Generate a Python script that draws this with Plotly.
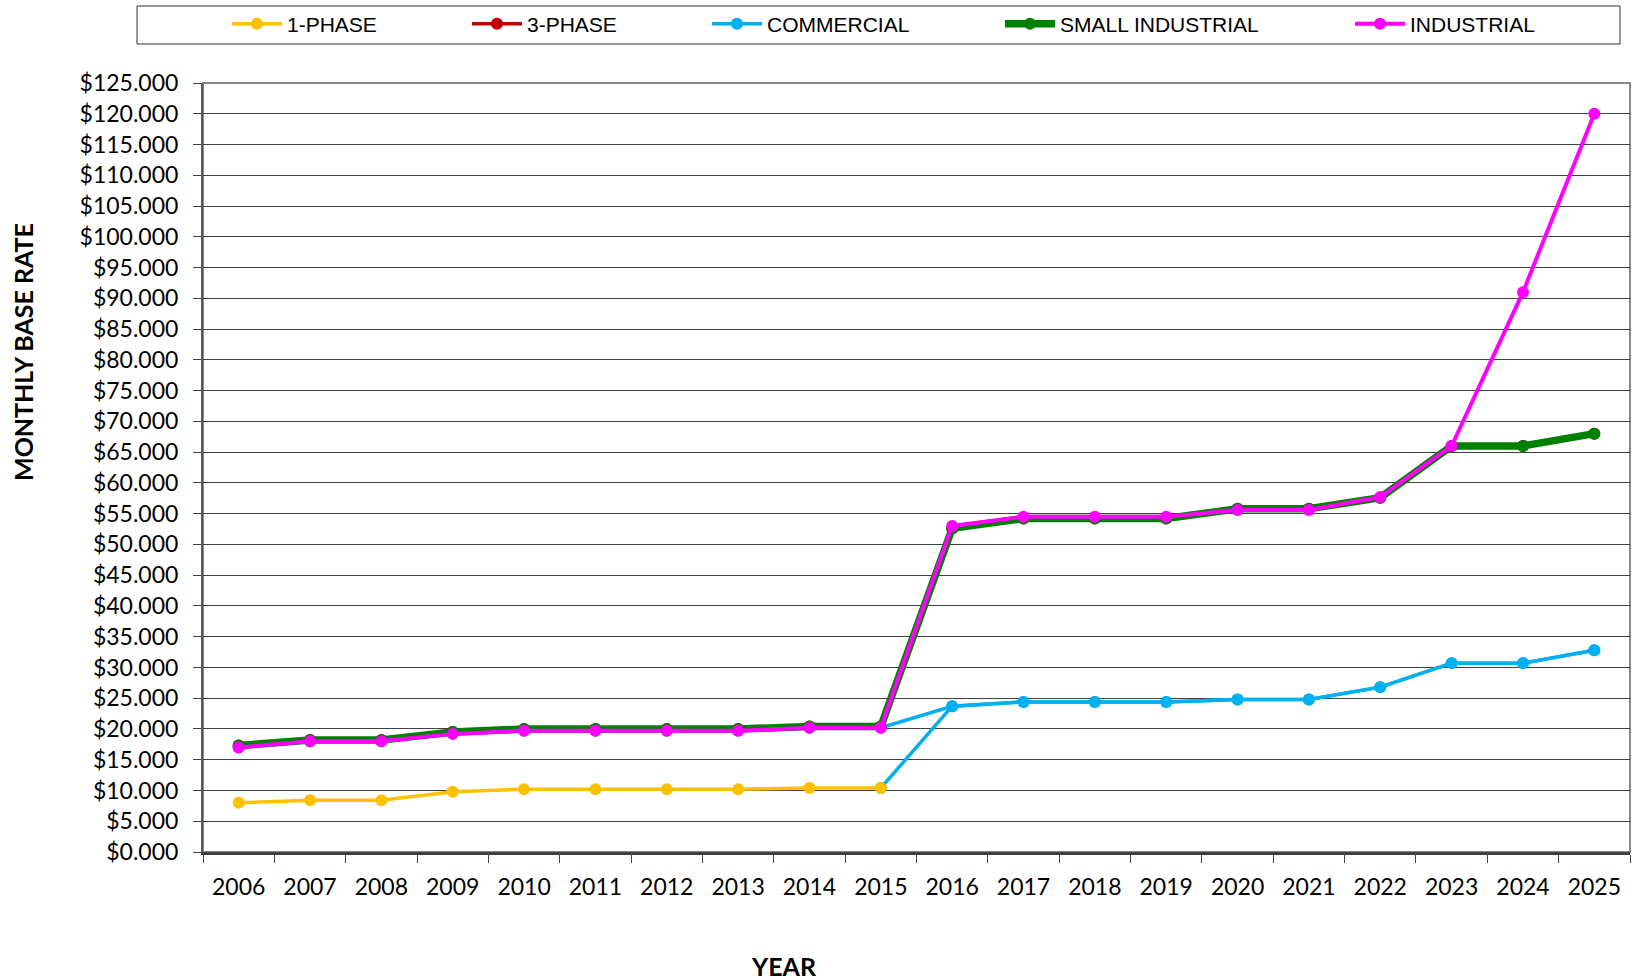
import plotly.graph_objects as go

YEARS = ["2006", "2007", "2008", "2009", "2010", "2011", "2012", "2013", "2014", "2015",
         "2016", "2017", "2018", "2019", "2020", "2021", "2022", "2023", "2024", "2025"]

# 1-PHASE: 2006-2015 drawn yellow; from 2016 it follows the commercial rate (drawn blue)
ONE_PHASE = [8.0, 8.4, 8.4, 9.8, 10.2, 10.2, 10.2, 10.2, 10.4, 10.4,
             23.7, 24.4, 24.4, 24.4, 24.8, 24.8, 26.8, 30.7, 30.7, 32.8]
THREE_PHASE = [17.3, 18.2, 18.2, 19.5, 20.0, 20.0, 20.0, 20.0, 20.4, 20.4,
               52.6, 54.2, 54.2, 54.2, 55.8, 55.8, 57.6, 66.0, 66.0, 68.0]
COMMERCIAL = [17.0, 18.0, 18.0, 19.2, 19.7, 19.7, 19.7, 19.7, 20.2, 20.2,
              23.7, 24.4, 24.4, 24.4, 24.8, 24.8, 26.8, 30.7, 30.7, 32.8]
SMALL_INDUSTRIAL = [17.3, 18.2, 18.2, 19.5, 20.0, 20.0, 20.0, 20.0, 20.4, 20.4,
                    52.6, 54.2, 54.2, 54.2, 55.8, 55.8, 57.6, 66.0, 66.0, 68.0]
INDUSTRIAL = [17.0, 18.0, 18.0, 19.2, 19.7, 19.7, 19.7, 19.7, 20.2, 20.2,
              53.0, 54.5, 54.5, 54.5, 55.6, 55.6, 57.7, 66.0, 91.0, 120.0]

SERIES_NAMES = ["1-PHASE", "3-PHASE", "COMMERCIAL", "SMALL INDUSTRIAL", "INDUSTRIAL"]

W, H = 1635, 980
L, R, T, B = 203, 5, 83, 128
PW, PH = W - L - R, H - T - B


def px_x(px):
    return (px - L) / PW


def px_y(py):
    return (H - B - py) / PH


YELLOW, RED, BLUE, GREEN, MAGENTA = "#FFC000", "#C00000", "#00B0F0", "#008000", "#FF00FF"
SPLIT = YEARS.index("2015")
MS = 12

fig = go.Figure()
# draw order: bottom to top
fig.add_trace(go.Scatter(x=YEARS, y=THREE_PHASE, name=SERIES_NAMES[1], mode="lines+markers",
                         line=dict(color=RED, width=3.5), marker=dict(size=MS, color=RED),
                         legend="legend2"))
fig.add_trace(go.Scatter(x=YEARS, y=COMMERCIAL, name=SERIES_NAMES[2], mode="lines+markers",
                         line=dict(color=BLUE, width=3.5), marker=dict(size=MS, color=BLUE),
                         legend="legend3"))
fig.add_trace(go.Scatter(x=YEARS[SPLIT:], y=ONE_PHASE[SPLIT:], name=SERIES_NAMES[0],
                         mode="lines+markers", line=dict(color=BLUE, width=3.5),
                         marker=dict(size=MS, color=BLUE), showlegend=False))
fig.add_trace(go.Scatter(x=YEARS[:SPLIT + 1], y=ONE_PHASE[:SPLIT + 1], name=SERIES_NAMES[0],
                         mode="lines+markers", line=dict(color=YELLOW, width=3.5),
                         marker=dict(size=MS, color=YELLOW), legend="legend"))
fig.add_trace(go.Scatter(x=YEARS, y=SMALL_INDUSTRIAL, name=SERIES_NAMES[3], mode="lines+markers",
                         line=dict(color=GREEN, width=7.5), marker=dict(size=MS, color=GREEN),
                         legend="legend4"))
fig.add_trace(go.Scatter(x=YEARS, y=INDUSTRIAL, name=SERIES_NAMES[4], mode="lines+markers",
                         line=dict(color=MAGENTA, width=4), marker=dict(size=MS, color=MAGENTA),
                         legend="legend5"))

legend_font = dict(family="Liberation Sans, Arial", size=21, color="#000000")
sym_starts = [227, 467, 707, 1000, 1350]
legend_keys = ["legend", "legend2", "legend3", "legend4", "legend5"]
legend_layout = {}
for key, sx in zip(legend_keys, sym_starts):
    legend_layout[key] = dict(x=px_x(sx), y=px_y(24), xanchor="left", yanchor="middle",
                              orientation="h", font=legend_font, bgcolor="rgba(0,0,0,0)",
                              borderwidth=0, itemwidth=50)

fig.update_layout(
    width=W, height=H,
    margin=dict(l=L, r=R, t=T, b=B, autoexpand=False),
    paper_bgcolor="white", plot_bgcolor="white",
    font=dict(family="Lato", color="#000000"),
    **legend_layout,
    xaxis=dict(type="category", range=[-0.5, 19.5], showgrid=False, zeroline=False,
               showline=True, linecolor="#404040", linewidth=3,
               ticks="outside", tickson="boundaries", ticklen=8, tickcolor="#404040",
               tickwidth=1, tickfont=dict(family="Lato", size=23, color="#000000"),
               ticklabelstandoff=12),
    yaxis=dict(range=[0, 125], dtick=5, tick0=0, tickprefix="$", tickformat=".3f",
               showgrid=True, gridcolor="#404040", gridwidth=1, zeroline=False,
               showline=True, linecolor="#595959", linewidth=2,
               ticks="outside", ticklen=8, tickcolor="#404040", tickwidth=1,
               tickfont=dict(family="Lato", size=23, color="#000000"),
               ticklabelstandoff=10),
    shapes=[
        dict(type="rect", xref="paper", yref="paper", x0=0, x1=1, y0=0, y1=1,
             line=dict(color="#888888", width=2), layer="below"),
        dict(type="rect", xref="paper", yref="paper", x0=px_x(137), x1=px_x(1620),
             y0=px_y(44), y1=px_y(6), line=dict(color="#333333", width=1), layer="above"),
    ],
    annotations=[
        dict(text="<b>MONTHLY BASE RATE</b>", xref="paper", yref="paper",
             x=px_x(23), y=px_y(352), textangle=-90, showarrow=False,
             xanchor="center", yanchor="middle",
             font=dict(family="Lato", size=25, color="#000000")),
        dict(text="<b>YEAR</b>", xref="paper", yref="paper",
             x=px_x(784), y=px_y(966), showarrow=False,
             xanchor="center", yanchor="middle",
             font=dict(family="Lato", size=25, color="#000000")),
    ],
)

fig.write_html("out.html",
               config={"displayModeBar": False},
               post_script="document.body.style.margin='0px';"
                           "document.body.style.overflow='hidden';")
